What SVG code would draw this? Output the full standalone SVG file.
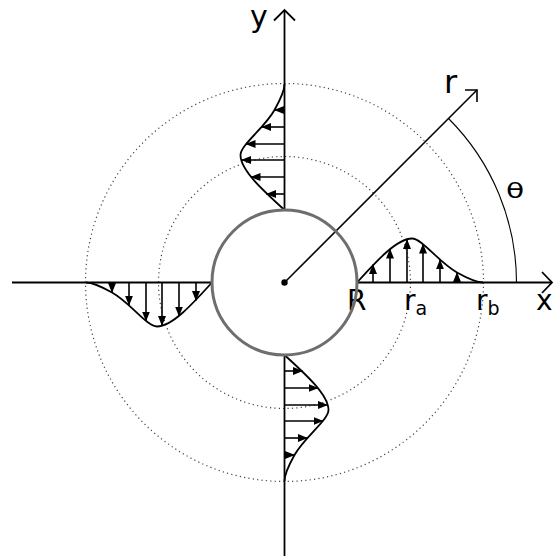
<svg xmlns="http://www.w3.org/2000/svg" xmlns:xlink="http://www.w3.org/1999/xlink" width="553" height="556" viewBox="0 0 553 556">
<style>
.ax{stroke:#000;stroke-width:1.8;fill:none}
.dot{stroke:#444;stroke-width:1.2;fill:none;stroke-dasharray:1.2,3.2}
.prof{stroke:#000;stroke-width:1.8;fill:none}
.arr{stroke:#000;stroke-width:1.6;fill:none;marker-end:url(#ah)}
.lbl{font-family:"DejaVu Sans",sans-serif;fill:#000}
</style>
<defs>
<marker id="ah" markerUnits="userSpaceOnUse" markerWidth="10" markerHeight="8" refX="9.5" refY="4" orient="auto">
<path d="M0,0 L10,4 L0,8 z" fill="#000"/>
</marker>
<g id="profile">
<path class="prof" d="M72.5,0 C92.5,-22 112.5,-44 127.5,-44 C137.5,-44 154.5,-20 172.5,-10 C184.5,-3.3 192.5,0 198.5,0"/>
<line class="arr" x1="88.5" y1="0" x2="88.5" y2="-18"/>
<line class="arr" x1="105.5" y1="0" x2="105.5" y2="-33.5"/>
<line class="arr" x1="122.5" y1="0" x2="122.5" y2="-43"/>
<line class="arr" x1="138.5" y1="0" x2="138.5" y2="-38.5"/>
<line class="arr" x1="155.5" y1="0" x2="155.5" y2="-22.7"/>
<line class="arr" x1="172.5" y1="0" x2="172.5" y2="-10"/>
</g>
</defs>
<g id="guides">
<circle class="dot" cx="284.5" cy="282.5" r="126"/>
<circle class="dot" cx="284.5" cy="282.5" r="199"/>
</g>
<g id="connectors">
<line class="ax" x1="12" y1="282.5" x2="212" y2="282.5"/>
<line class="ax" x1="357" y1="282.5" x2="552" y2="282.5"/>
<path class="ax" d="M542,272 L552,282.5 L542,293"/>
<line class="ax" x1="284.5" y1="10" x2="284.5" y2="210"/>
<line class="ax" x1="284.5" y1="355" x2="284.5" y2="556"/>
<path class="ax" d="M274,20.5 L284.5,10 L295,20.5"/>
<line stroke="#000" stroke-width="1.6" x1="284.5" y1="282.5" x2="477" y2="90"/>
<path d="M465,90 L477,90 L477,102" stroke="#000" stroke-width="1.6" fill="none"/>
<path d="M516.5,282.5 A232,232 0 0 0 448.5,118.5" stroke="#000" stroke-width="1.1" fill="none"/>
</g>
<g id="profile-right"><use xlink:href="#profile" transform="translate(284.5,282.5)"/></g>
<g id="profile-top"><use xlink:href="#profile" transform="translate(284.5,282.5) rotate(-90)"/></g>
<g id="profile-left"><use xlink:href="#profile" transform="translate(284.5,282.5) rotate(180)"/></g>
<g id="profile-bottom"><use xlink:href="#profile" transform="translate(284.5,282.5) rotate(90)"/></g>
<g id="labels">
<text class="lbl" x="347" y="310" font-size="28">R</text>
<text class="lbl" x="404" y="310" font-size="28">r<tspan font-size="19" dy="5">a</tspan></text>
<text class="lbl" x="476" y="310" font-size="28">r<tspan font-size="19" dy="5">b</tspan></text>
<text class="lbl" x="536" y="310" font-size="28">x</text>
<text class="lbl" x="250" y="27" font-size="30">y</text>
<text class="lbl" x="444" y="93" font-size="32">r</text>
<text class="lbl" font-size="22" transform="translate(506,198) scale(1.35,1)">θ</text>
</g>
<g id="cylinder">
<circle cx="284.5" cy="282.5" r="72.5" fill="none" stroke="#6e6e6e" stroke-width="3"/>
<circle cx="284.5" cy="282.5" r="3.2" fill="#000"/>
</g>
</svg>
